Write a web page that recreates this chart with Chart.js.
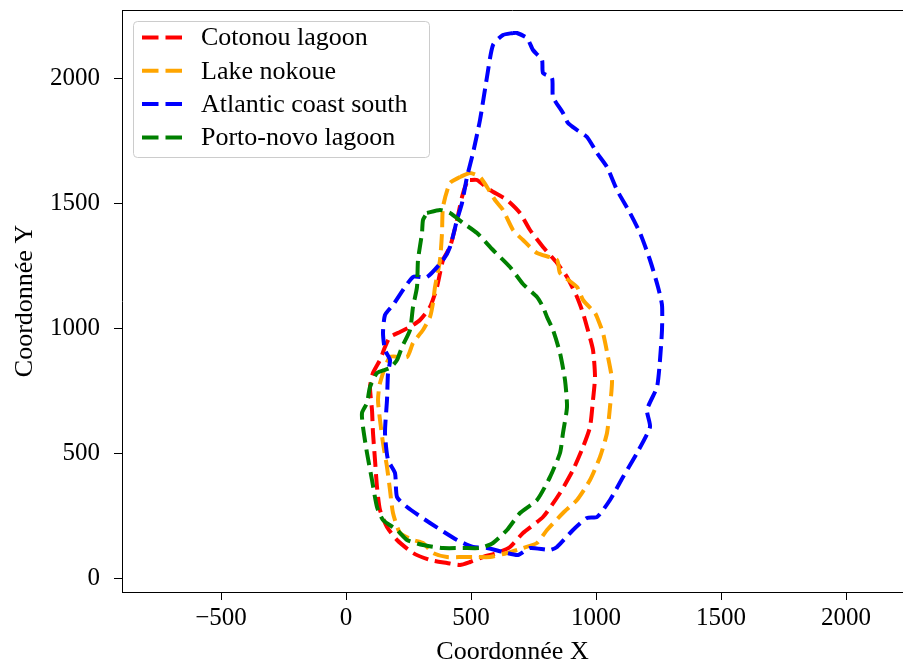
<!DOCTYPE html>
<html>
<head>
<meta charset="utf-8">
<script src="https://cdn.jsdelivr.net/npm/chart.js@4/dist/chart.umd.min.js"></script>
<style>
  body { margin: 0; background: #fff; }
  canvas { display: block; }
</style>
</head>
<body>
<canvas id="contours" width="903" height="665"></canvas>
<script>
// contour outlines (closed loops)
const cotonouX = [496, 524, 576, 644, 696, 736, 788, 844, 884, 924, 948, 964, 988, 996, 988, 976, 948, 908, 856, 788, 708, 656, 604, 548, 496, 456, 404, 336, 268, 204, 164, 136, 124, 116, 108, 104, 96, 108, 136, 156, 176, 216, 256, 296, 336, 364, 388, 416, 444, 464, 484, 496]
const cotonouY = [1592, 1592, 1552, 1512, 1460, 1392, 1324, 1260, 1204, 1124, 1060, 1004, 912, 804, 712, 604, 524, 432, 340, 244, 180, 124, 100, 84, 64, 52, 60, 72, 100, 152, 204, 272, 364, 472, 580, 672, 764, 820, 872, 924, 964, 984, 1004, 1032, 1084, 1164, 1272, 1324, 1432, 1524, 1584, 1592]

const nokoueX = [456, 496, 536, 564, 596, 628, 668, 708, 764, 844, 856, 924, 948, 996, 1004, 1028, 1048, 1064, 1056, 1044, 1016, 976, 924, 868, 804, 764, 708, 644, 576, 524, 468, 404, 348, 308, 268, 216, 188, 176, 164, 148, 136, 128, 136, 176, 244, 268, 308, 336, 348, 356, 376, 384, 388, 416, 456]
const nokoueY = [1604, 1620, 1604, 1564, 1512, 1472, 1392, 1352, 1300, 1272, 1220, 1164, 1112, 1060, 1044, 980, 884, 792, 684, 580, 484, 392, 312, 260, 192, 140, 120, 100, 84, 84, 84, 84, 100, 140, 152, 180, 260, 352, 444, 540, 632, 712, 780, 884, 884, 940, 992, 1044, 1100, 1164, 1272, 1380, 1484, 1580, 1604]

const atlanticX = [668, 628, 588, 564, 536, 508, 484, 464, 444, 416, 388, 324, 268, 188, 156, 148, 156, 176, 168, 164, 156, 168, 196, 204, 244, 336, 444, 508, 564, 628, 688, 736, 816, 844, 908, 964, 1004, 1056, 1108, 1164, 1216, 1204, 1244, 1256, 1264, 1264, 1248, 1216, 1176, 1136, 1084, 1044, 1004, 964, 924, 888, 868, 828, 824, 788, 784, 748, 724, 684, 668]
const atlanticY = [2180, 2172, 2132, 2004, 1832, 1700, 1604, 1500, 1432, 1324, 1272, 1204, 1204, 1092, 1052, 980, 912, 872, 820, 712, 580, 472, 420, 324, 284, 220, 152, 124, 120, 104, 92, 120, 112, 124, 192, 240, 244, 312, 404, 500, 604, 672, 764, 872, 992, 1092, 1164, 1272, 1380, 1460, 1552, 1644, 1700, 1764, 1792, 1820, 1860, 1924, 2000, 2020, 2072, 2112, 2160, 2180, 2180]

const portoNovoX = [324, 376, 416, 468, 524, 588, 656, 708, 764, 788, 804, 828, 856, 876, 884, 868, 856, 816, 764, 696, 644, 588, 536, 468, 388, 308, 244, 204, 148, 124, 104, 84, 68, 64, 84, 96, 124, 176, 204, 224, 256, 268, 284, 288, 304, 308, 324]
const portoNovoY = [1460, 1472, 1460, 1420, 1380, 1312, 1244, 1176, 1124, 1084, 1044, 992, 900, 792, 684, 580, 500, 404, 312, 260, 192, 140, 120, 120, 120, 132, 152, 192, 232, 284, 392, 500, 604, 660, 700, 764, 820, 840, 872, 924, 992, 1084, 1164, 1272, 1380, 1432, 1460]

const seriesLabels = ['Cotonou lagoon', 'Lake nokoue', 'Atlantic coast south', 'Porto-novo lagoon']
const seriesColors = ['#ff0000', '#ffa500', '#0000ff', '#008000']

const xTicks = [-500, 0, 500, 1000, 1500, 2000]
const yTicks = [0, 500, 1000, 1500, 2000]

const toPoints = (xs, ys) => xs.map((x, i) => ({ x: x, y: ys[i] }))
const fmtTick = v => (v < 0 ? '\u2212' + Math.abs(v) : String(v))

Chart.defaults.font.family = "'Liberation Serif', 'DejaVu Serif', serif"
Chart.defaults.font.size = 25
Chart.defaults.color = '#000'

const series = [
  toPoints(cotonouX, cotonouY),
  toPoints(nokoueX, nokoueY),
  toPoints(atlanticX, atlanticY),
  toPoints(portoNovoX, portoNovoY)
]

const datasets = series.map((pts, i) => ({
  label: seriesLabels[i],
  data: pts,
  showLine: true,
  fill: false,
  borderColor: seriesColors[i],
  backgroundColor: seriesColors[i],
  borderWidth: 4,
  borderDash: [16, 7],
  borderCapStyle: 'butt',
  pointRadius: 0,
  tension: 0.2,
  order: 3 - i // later series on top, like matplotlib
}))

// frame top edge + legend box in the upper left of the plot
const framePlugin = {
  id: 'frameAndLegend',
  afterDraw (chart) {
    const ctx = chart.ctx
    const area = chart.chartArea
    ctx.save()
    ctx.strokeStyle = '#000'
    ctx.lineWidth = 1
    ctx.beginPath()
    ctx.moveTo(area.left, area.top + 0.5)
    ctx.lineTo(area.right, area.top + 0.5)
    ctx.stroke()

    const bx = area.left + 11
    const by = area.top + 11
    const bw = 296
    const bh = 136
    ctx.fillStyle = 'rgba(255,255,255,0.8)'
    ctx.strokeStyle = '#cccccc'
    ctx.beginPath()
    ctx.roundRect(bx + 0.5, by + 0.5, bw, bh, 4)
    ctx.fill()
    ctx.stroke()

    ctx.font = "26px 'Liberation Serif', serif"
    ctx.textBaseline = 'middle'
    ctx.textAlign = 'left'
    chart.data.datasets.forEach((ds, i) => {
      const rowY = by + 16.5 + i * 33.3
      ctx.strokeStyle = ds.borderColor
      ctx.lineWidth = 4
      ctx.setLineDash([16.5, 7])
      ctx.beginPath()
      ctx.moveTo(bx + 9, rowY)
      ctx.lineTo(bx + 49, rowY)
      ctx.stroke()
      ctx.setLineDash([])
      ctx.fillStyle = '#000'
      ctx.fillText(ds.label, bx + 68, rowY + 1)
    })
    ctx.restore()
  }
}

new Chart(document.getElementById('contours'), {
  type: 'scatter',
  data: { datasets: datasets },
  options: {
    responsive: false,
    animation: false,
    devicePixelRatio: 1,
    layout: { padding: { top: 10, right: 0, bottom: 0, left: 0 } },
    plugins: {
      legend: { display: false },
      tooltip: { enabled: false }
    },
    scales: {
      x: {
        type: 'linear',
        min: -896,
        max: 2228,
        afterBuildTicks: axis => { axis.ticks = xTicks.map(v => ({ value: v })) },
        afterFit: axis => {
          axis.height = 73
          axis.paddingLeft = 0
          axis.paddingRight = 0
        },
        ticks: { padding: 3, callback: fmtTick, maxRotation: 0 },
        grid: { drawOnChartArea: false, drawTicks: true, tickLength: 8, color: '#000' },
        border: { display: true, color: '#000', width: 1 },
        title: {
          display: true,
          text: 'Coordonnée X',
          font: { size: 26, lineHeight: 1 },
          padding: { top: 0, bottom: 0 }
        }
      },
      y: {
        type: 'linear',
        min: -56,
        max: 2272,
        afterBuildTicks: axis => { axis.ticks = yTicks.map(v => ({ value: v })) },
        afterFit: axis => {
          axis.width = 122
          axis.paddingTop = 0
          axis.paddingBottom = 0
        },
        ticks: { padding: 14, callback: fmtTick },
        grid: { drawOnChartArea: false, drawTicks: true, tickLength: 8, color: '#000' },
        border: { display: true, color: '#000', width: 1 },
        title: {
          display: true,
          text: 'Coordonnée Y',
          font: { size: 26, lineHeight: 1 },
          padding: { top: 12, bottom: 0 }
        }
      }
    }
  },
  plugins: [framePlugin]
})
</script>
</body>
</html>
